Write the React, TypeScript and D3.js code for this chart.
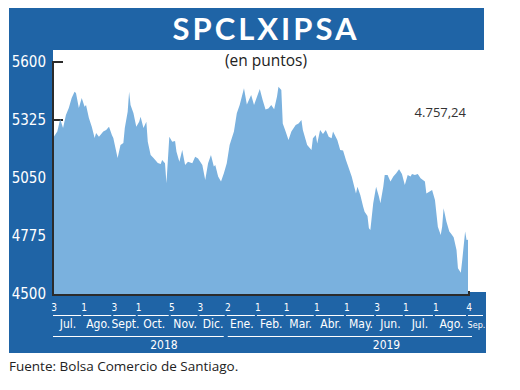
import * as d3 from "d3";

// índice de sesión bursátil (desde el 3 de julio de 2018) y cierre del IPSA
const dias = [
  0, 3, 5, 7, 9, 11, 13, 15, 16, 18, 20, 22, 23, 25, 27, 29, 30, 32, 35, 37,
  39, 41, 42, 45, 47, 49, 50, 52, 53, 54, 56, 58, 60, 61, 63, 65, 66, 68, 70, 73,
  75, 76, 78, 79, 81, 83, 85, 86, 88, 90, 92, 94, 97, 99, 101, 104, 106, 108, 110, 112,
  113, 115, 117, 119, 121, 123, 126, 128, 130, 133, 135, 138, 140, 144, 146, 148, 150, 152, 154, 156,
  157, 159, 160, 162, 164, 166, 169, 171, 173, 174, 177, 180, 181, 183, 184, 186, 188, 190, 192, 194,
  195, 198, 200, 202, 204, 206, 208, 211, 212, 214, 216, 217, 219, 220, 221, 223, 225, 227, 228, 230,
  231, 233, 235, 237, 239, 241, 243, 245, 247, 249, 250, 252, 254, 256, 259, 260, 262, 264, 266, 268,
  270, 271, 272, 274, 276, 277, 279, 281, 282, 284, 285, 287, 288, 289,
];
const valores = [
  5240, 5270, 5330, 5287, 5349, 5382, 5429, 5459, 5453, 5382, 5429, 5388, 5396, 5334, 5293, 5240, 5263, 5246, 5270, 5278,
  5293, 5254, 5240, 5145, 5206, 5216, 5287, 5364, 5459, 5396, 5358, 5293, 5317, 5341, 5287, 5317, 5222, 5159, 5145, 5121,
  5116, 5135, 5120, 5025, 5246, 5222, 5225, 5175, 5127, 5183, 5112, 5127, 5120, 5151, 5143, 5112, 5041, 5120, 5159, 5104,
  5112, 5057, 5033, 5072, 5120, 5206, 5270, 5357, 5396, 5475, 5399, 5444, 5396, 5472, 5420, 5375, 5380, 5396, 5376, 5436,
  5483, 5467, 5309, 5270, 5230, 5270, 5301, 5309, 5325, 5278, 5206, 5183, 5238, 5254, 5214, 5278, 5259, 5278, 5246, 5238,
  5270, 5230, 5183, 5180, 5135, 5096, 5057, 4977, 5009, 4969, 4914, 4890, 4870, 4812, 4803, 4930, 5009, 4961, 4930, 5009,
  5064, 5064, 5033, 5057, 5072, 5091, 5069, 5017, 5064, 5057, 5069, 5064, 5069, 5049, 5033, 4977, 4985, 4993, 4946, 4819,
  4780, 4819, 4906, 4843, 4796, 4788, 4769, 4709, 4622, 4601, 4661, 4796, 4756, 4757,
];

const inicioMes = [0, 21, 42, 59, 82, 102, 121, 142, 162, 183, 204, 225, 245, 266, 289];
const diaMes = ["3", "1", "3", "1", "5", "3", "2", "1", "1", "1", "1", "3", "1", "1", "4"];
const meses = ["Jul.", "Ago.", "Sept.", "Oct.", "Nov.", "Dic.", "Ene.", "Feb.", "Mar.", "Abr.", "May.", "Jun.", "Jul.", "Ago.", "Sep."];
const anios = ["2018", "2019"];
const inicioAnio = [0, 121];
const finAnio = [121, 289];
const yTicks = [4500, 4775, 5050, 5325, 5600];
const ultimo = "4.757,24";

const AZUL = "#1f64a6";
const AREA = "#7ab1de";
const EJE = "#2b2b2b";
const NARROW = "'Liberation Sans Narrow', 'DejaVu Sans Condensed', 'Open Sans', sans-serif";
const SANS = "'Open Sans', 'Noto Sans', sans-serif";

export default function App() {
  const W = 520;
  const H = 390;
  const left = 53;
  const right = 468;
  const top = 62;
  const bottom = 294;

  const x = d3.scaleLinear().domain([0, 289]).range([left, right]);
  const y = d3.scaleLinear().domain([4500, 5600]).range([bottom, top]);

  const puntos = dias.map((d, i) => [d, valores[i]] as [number, number]);
  const area = d3
    .area<[number, number]>()
    .x((d) => x(d[0]))
    .y0(y(4500))
    .y1((d) => y(d[1]))(puntos);

  return (
    <svg
      width={W}
      height={H}
      viewBox={`0 0 ${W} ${H}`}
      style={{ position: "absolute", left: 0, top: 0, background: "#fff" }}
    >
      {/* marco azul */}
      <rect x={9} y={8} width={475} height={42} fill={AZUL} />
      <rect x={9} y={50} width={left - 9} height={303} fill={AZUL} />
      <rect x={9} y={bottom + 1} width={477} height={353 - bottom - 1} fill={AZUL} />
      <rect x={right + 1} y={292} width={486 - right - 1} height={10} fill={AZUL} />

      <text
        x={266}
        y={40}
        textAnchor="middle"
        fill="#fff"
        fontFamily="Lato, 'Open Sans', sans-serif"
        fontWeight={700}
        fontSize={31}
        letterSpacing={3}
      >
        SPCLXIPSA
      </text>
      <text x={266} y={66} textAnchor="middle" fill="#222" fontFamily={SANS} fontSize={15.5}>
        (en puntos)
      </text>

      {/* eje y */}
      {yTicks.map((t) => (
        <g key={t}>
          <line x1={left} x2={left + 10} y1={y(t)} y2={y(t)} stroke={EJE} strokeWidth={2} />
          <text
            x={46}
            y={y(t) + 5}
            textAnchor="end"
            fill="#fff"
            fontFamily={NARROW}
            fontSize={15}
          >
            {t}
          </text>
        </g>
      ))}

      <path d={area ?? ""} fill={AREA} />

      <line x1={left} x2={left} y1={top - 1} y2={bottom + 2} stroke={EJE} strokeWidth={2} />
      <line x1={left - 1} x2={right + 1} y1={bottom + 1} y2={bottom + 1} stroke={EJE} strokeWidth={2} />
      <line x1={right + 1} x2={right + 1} y1={bottom - 3} y2={bottom + 2} stroke={EJE} strokeWidth={2} />

      <text x={466} y={117} textAnchor="end" fill="#333" fontFamily={SANS} fontSize={13}>
        {ultimo}
      </text>

      {/* eje x: días, meses y años */}
      {inicioMes.map((d, i) => {
        const x0 = x(d);
        const x1 = i < inicioMes.length - 1 ? x(inicioMes[i + 1]) - 2 : x0 + 15;
        return (
          <g key={i}>
            <text x={x0 + 1} y={311} textAnchor="middle" fill="#fff" fontFamily={NARROW} fontSize={10}>
              {diaMes[i]}
            </text>
            <line x1={x0} x2={x1} y1={315.5} y2={315.5} stroke="#fff" strokeWidth={1} />
            <text
              x={(x0 + x1) / 2 + 1}
              y={328}
              textAnchor="middle"
              fill="#fff"
              fontFamily={NARROW}
              fontSize={i === inicioMes.length - 1 ? 9 : 12}
            >
              {meses[i]}
            </text>
          </g>
        );
      })}
      {anios.map((a, i) => {
        const x0 = x(inicioAnio[i]) + (i === 0 ? 0 : 1);
        const x1 = i === 0 ? x(finAnio[i]) - 3 : x(finAnio[i]) + 4;
        return (
          <g key={a}>
            <line x1={x0} x2={x1} y1={336.5} y2={336.5} stroke="#fff" strokeWidth={1} />
            <text
              x={x0 + (x1 - x0) * 0.65}
              y={349}
              textAnchor="middle"
              fill="#fff"
              fontFamily={NARROW}
              fontSize={12}
            >
              {a}
            </text>
          </g>
        );
      })}

      <text x={9} y={371} fill="#222" fontFamily={SANS} fontSize={13.5}>
        Fuente: Bolsa Comercio de Santiago.
      </text>
    </svg>
  );
}
